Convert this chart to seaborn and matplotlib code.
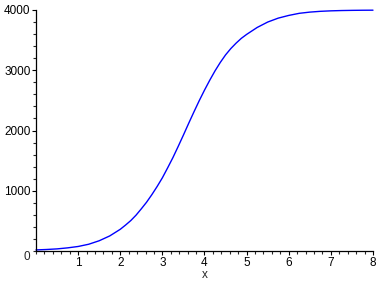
import matplotlib
matplotlib.use("Agg")
import matplotlib.pyplot as plt
import seaborn as sns
import pandas as pd
from matplotlib.ticker import MultipleLocator

x_vals = [0, 0.25, 0.5, 0.75, 1, 1.25, 1.5, 1.75, 2, 2.125, 2.25, 2.375, 2.5,
          2.625, 2.75, 2.875, 3, 3.125, 3.25, 3.375, 3.5, 3.625, 3.75, 3.875,
          4, 4.125, 4.25, 4.375, 4.5, 4.625, 4.75, 4.875, 5, 5.25, 5.5, 5.75,
          6, 6.25, 6.5, 6.75, 7, 7.25, 7.5, 7.75, 8]
y_vals = [18, 25, 35, 52, 75, 112, 170, 250, 360, 430, 505, 595, 700,
          810, 935, 1070, 1215, 1380, 1550, 1735, 1925, 2120, 2310, 2495,
          2670, 2835, 2990, 3130, 3255, 3360, 3450, 3530, 3595, 3710, 3800, 3865,
          3910, 3945, 3965, 3978, 3986, 3991, 3994, 3996, 3997]

sns.set_style("ticks")
plt.rcParams['font.family'] = ['Liberation Sans', 'DejaVu Sans']

fig = plt.figure(figsize=(3.81, 2.83), dpi=100)
ax = fig.add_axes([36/381, 1-251/283, (373-36)/381, (251-10)/283])

df = pd.DataFrame({"x": x_vals, "y": y_vals})
sns.lineplot(data=df, x="x", y="y", ax=ax, color="#0000ff", linewidth=1.0, clip_on=False)

ax.set_xlim(0, 8)
ax.set_ylim(0, 4000)
ax.xaxis.set_minor_locator(MultipleLocator(0.2))
ax.yaxis.set_minor_locator(MultipleLocator(200))
ax.set_xticks([1, 2, 3, 4, 5, 6, 7, 8])
ax.set_xticklabels(["1", "2", "3", "4", "5", "6", "7", "8"])
ax.set_yticks([1000, 2000, 3000, 4000])
ax.set_yticklabels(["1000", "2000", "3000", "4000"])
ax.tick_params(axis="both", which="major", length=3, width=0.8, labelsize=8.5, pad=1, colors="black")
ax.tick_params(axis="both", which="minor", length=2, width=0.8)
for s in ["top", "right"]:
    ax.spines[s].set_visible(False)
for s in ["left", "bottom"]:
    ax.spines[s].set_linewidth(0.9)
    ax.spines[s].set_color("black")
ax.set_xlabel("x", fontsize=8.5, labelpad=0)
ax.set_ylabel("")
fig.text(23/381, 1-257/283, "0", fontsize=8.5, va="center", ha="left")

fig.savefig("out.png", dpi=100)
